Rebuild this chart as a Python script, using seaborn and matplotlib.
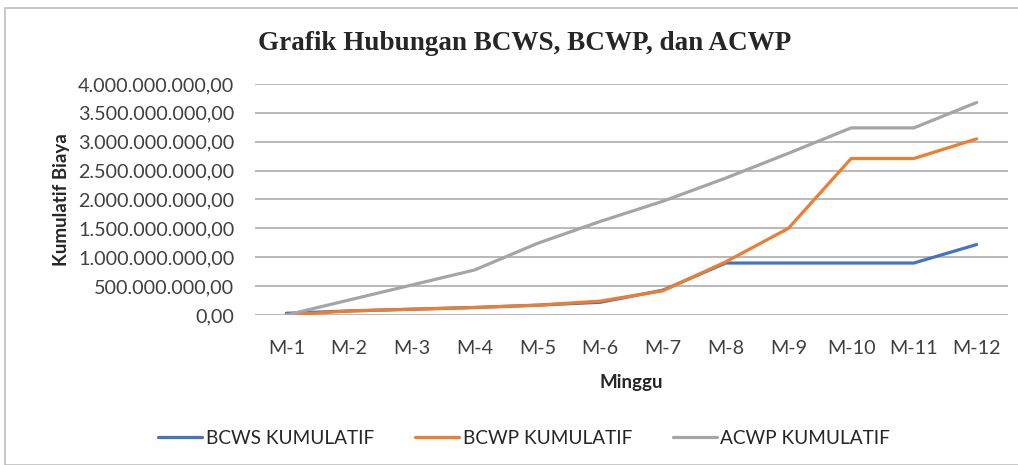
import numpy as np
import pandas as pd
import matplotlib
matplotlib.use("Agg")
import matplotlib.pyplot as plt
from matplotlib.ticker import FuncFormatter
from matplotlib.patches import Rectangle
import seaborn as sns

weeks = ["M-1", "M-2", "M-3", "M-4", "M-5", "M-6", "M-7", "M-8", "M-9", "M-10", "M-11", "M-12"]
bcws = [0.03e9, 0.07e9, 0.10e9, 0.13e9, 0.17e9, 0.22e9, 0.43e9, 0.90e9, 0.90e9, 0.90e9, 0.90e9, 1.22e9]
bcwp = [0.00e9, 0.07e9, 0.10e9, 0.13e9, 0.17e9, 0.24e9, 0.42e9, 0.92e9, 1.50e9, 2.71e9, 2.71e9, 3.05e9]
acwp = [0.00e9, 0.26e9, 0.52e9, 0.78e9, 1.24e9, 1.62e9, 1.97e9, 2.37e9, 2.80e9, 3.24e9, 3.24e9, 3.68e9]
series_names = ["BCWS KUMULATIF", "BCWP KUMULATIF", "ACWP KUMULATIF"]
colors = ["#4472C4", "#ED7D31", "#A5A5A5"]


def indo_format(v, pos):
    # 1.500.000.000,00 style
    s = f"{v:,.2f}"
    return s.replace(",", "X").replace(".", ",").replace("X", ".")


def main():
    df = pd.DataFrame({
        "Minggu": weeks * 3,
        "Biaya": bcws + bcwp + acwp,
        "Seri": np.repeat(series_names, len(weeks)),
    })

    sns.set_style("white")
    plt.rcParams["font.family"] = ["Lato", "DejaVu Sans"]

    fig = plt.figure(figsize=(10.18, 4.65), dpi=100)
    ax = fig.add_axes([0.2505, 1 - 315 / 465, 0.7397, 231 / 465])

    sns.lineplot(data=df, x="Minggu", y="Biaya", hue="Seri", palette=colors,
                 sort=False, linewidth=2.3, ax=ax, legend=True)

    ax.set_ylim(0, 4e9)
    ax.set_xlim(-0.5, len(weeks) - 0.5)
    ax.set_yticks(np.arange(0, 4.01e9, 0.5e9))
    ax.yaxis.set_major_formatter(FuncFormatter(indo_format))
    ax.grid(axis="y", color="#A6A6A6", linewidth=1.1)
    ax.set_axisbelow(True)
    for sp in ax.spines.values():
        sp.set_visible(False)
    ax.tick_params(axis="both", length=0, labelsize=14.2, colors="#404040")
    ax.tick_params(axis="y", pad=15)
    ax.tick_params(axis="x", pad=18)

    ax.set_xlabel("Minggu", fontsize=13.5, fontweight="bold", color="#262626", labelpad=12)
    ax.set_ylabel("Kumulatif Biaya", fontsize=13.5, fontweight="bold", color="#262626", labelpad=6)

    fig.text(0.515, 0.907, "Grafik Hubungan BCWS, BCWP, dan ACWP", ha="center", va="center",
             fontsize=19.5, fontweight="bold", family="Liberation Serif")

    handles, labels = ax.get_legend_handles_labels()
    ax.get_legend().remove()
    fig.legend(handles, labels, loc="center", bbox_to_anchor=(0.515, 0.058), ncol=3,
               frameon=False, fontsize=13.7, handlelength=2.3, handletextpad=0.2,
               columnspacing=2.15)

    fig.patches.append(Rectangle((5 / 1018, 0), 1.0, 1 - 8 / 465, transform=fig.transFigure,
                                 fill=False, edgecolor="#BFBFBF", linewidth=1.2))

    fig.savefig("out.png", dpi=100)


if __name__ == "__main__":
    main()
